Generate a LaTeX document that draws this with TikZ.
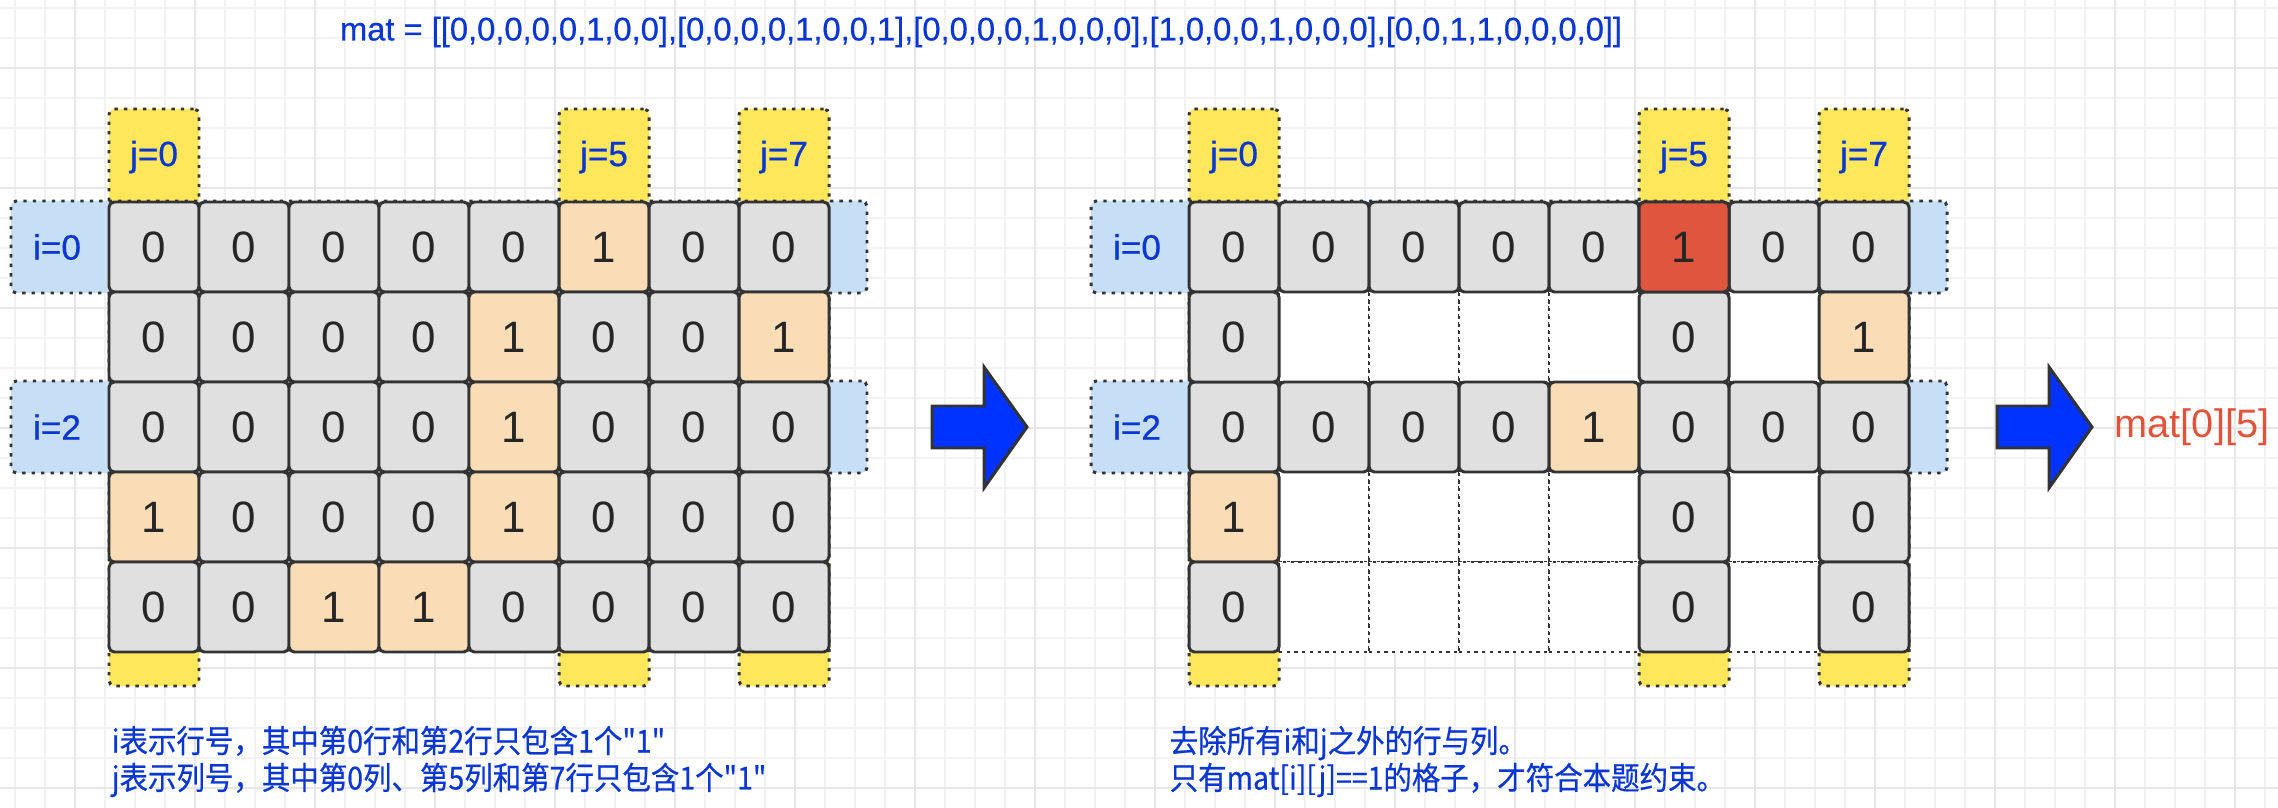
\documentclass[tikz,border=0pt]{standalone}
\usepackage{fontspec}
\setmainfont{Liberation Sans}
\newfontfamily\labelfont{Liberation Sans}[FakeBold=0.6]
\newfontfamily\cjk{Noto Sans CJK SC}[FakeStretch=0.9,FakeBold=0.6]
\usetikzlibrary{positioning}

\definecolor{cellgray}{HTML}{E0E0E0}
\definecolor{cellline}{HTML}{333333}
\definecolor{onefill}{HTML}{F9DDB6}
\definecolor{hitfill}{HTML}{E0553D}
\definecolor{tabyellow}{HTML}{FFE75C}
\definecolor{tabblue}{HTML}{C6DFF6}
\definecolor{labelblue}{HTML}{0A36D2}
\definecolor{arrowblue}{HTML}{0033FF}
\definecolor{resred}{HTML}{E2533B}
\definecolor{gridminor}{HTML}{F2F2F2}
\definecolor{gridmajor}{HTML}{E6E6E6}

\begin{document}
\begin{tikzpicture}[x=0.1mm,y=-0.1mm,
  cell/.style={rectangle,draw=cellline,line width=0.85pt,rounded corners=1.5pt,minimum size=9mm,inner sep=0,
    font=\fontsize{12.5}{14}\selectfont,text=black!85},
  cell0/.style={cell,fill=cellgray},
  cell1/.style={cell,fill=onefill},
  hit/.style={cell,fill=hitfill},
  blank/.style={rectangle,draw=cellline,line width=0.55pt,dash pattern=on 0.9pt off 1.3pt,fill=white,minimum size=9mm,inner sep=0},
  tab/.style={rectangle,draw=cellline,line width=0.85pt,dash pattern=on 0.95pt off 1.75pt,rounded corners=1.5pt,inner sep=0},
  coltab/.style={tab,fill=tabyellow,minimum width=9mm,minimum height=57.7mm},
  rowtab/.style={tab,fill=tabblue,minimum width=85.6mm,minimum height=9.2mm},
  tablabel/.style={text=labelblue,font=\labelfont\fontsize{10}{12}\selectfont,inner sep=0},
  note/.style={text=labelblue,align=left,anchor=west,font=\cjk\fontsize{9}{10.5}\selectfont,inner sep=0},
  bigarrow/.style={draw=cellline,line width=0.85pt,fill=arrowblue,line join=miter},
  minor/.style={line width=0.3pt,gridminor},
  major/.style={line width=0.5pt,gridmajor}]

\useasboundingbox (0,0) rectangle (2278,808);

%% background grid
\foreach \x in {15,45,...,2265} \draw[minor] (\x,0) -- (\x,808);
\foreach \y in {8,38,...,800} \draw[minor] (0,\y) -- (2278,\y);
\foreach \x in {75,195,...,2235} \draw[major] (\x,0) -- (\x,808);
\foreach \y in {68,188,...,788} \draw[major] (0,\y) -- (2278,\y);

%% matrix as text
\node[text=labelblue,font=\labelfont\fontsize{9.3}{11}\selectfont] (title) at (981,32)
  {mat = [[0,0,0,0,0,1,0,0],[0,0,0,0,1,0,0,1],[0,0,0,0,1,0,0,0],[1,0,0,0,1,0,0,0],[0,0,1,1,0,0,0,0]]};

%% column tabs (j) and row tabs (i), behind the cells
\foreach \j in {0,5,7} {
  \node[coltab] (Lcol\j) at ({154+90*\j},397.5) {};
  \node[coltab] (Rcol\j) at ({1234+90*\j},397.5) {};
  \node[tablabel] (Ljlab\j) at ({154+90*\j},157) {j=\j};
  \node[tablabel] (Rjlab\j) at ({1234+90*\j},157) {j=\j};
}
\foreach \i in {0,2} {
  \node[rowtab] (Lrow\i) at (439,{247+90*\i}) {};
  \node[rowtab] (Rrow\i) at (1519,{247+90*\i}) {};
  \node[tablabel] (Lilab\i) at (57,{247+90*\i}) {i=\i};
  \node[tablabel] (Rilab\i) at (1137,{247+90*\i}) {i=\i};
}

%% left grid: the whole matrix
\foreach \row [count=\r from 0] in {{0,0,0,0,0,1,0,0},{0,0,0,0,1,0,0,1},{0,0,0,0,1,0,0,0},{1,0,0,0,1,0,0,0},{0,0,1,1,0,0,0,0}}
  \foreach \v [count=\c from 0] in \row
    \node[cell\v] (L-\r-\c) at ({154+90*\c},{247+90*\r}) {\v};

%% right grid: only rows i and columns j are kept
\foreach \r in {1,3,4}
  \foreach \c in {1,2,3,4,6}
    \node[blank] (R-\r-\c) at ({1234+90*\c},{247+90*\r}) {};
\foreach \v [count=\c from 0] in {0,0,0,0,0,1,0,0}
  \node[cell\v] (R-0-\c) at ({1234+90*\c},247) {\v};
\foreach \v [count=\c from 0] in {0,0,0,0,1,0,0,0}
  \node[cell\v] (R-2-\c) at ({1234+90*\c},427) {\v};
\foreach \r/\c/\v in {1/0/0,1/5/0,1/7/1,3/0/1,3/5/0,3/7/0,4/0/0,4/5/0,4/7/0}
  \node[cell\v] (R-\r-\c) at ({1234+90*\c},{247+90*\r}) {\v};
%% the answer cell
\node[hit] at (R-0-5) {1};

%% block arrows
\coordinate (arrA) at (932,427);
\coordinate (arrB) at (1997,427);
\coordinate (tipB) at (2092,427);
\foreach \a in {arrA,arrB}
  \draw[bigarrow] (\a) ++(0,-21) -- ++(52,0) -- ++(0,-39) -- ++(43,60) -- ++(-43,61) -- ++(0,-40) -- ++(-52,0) -- cycle;
\node[text=resred,font=\fontsize{11.3}{13}\selectfont,anchor=west,inner sep=0,right=2.2mm of tipB] (res) {mat[0][5]};

%% notes
\node[note] (noteL) at (111,761.5) {i表示行号，其中第0行和第2行只包含1个"1"\\j表示列号，其中第0列、第5列和第7行只包含1个"1"};
\node[note] (noteR) at (1169,761.5) {去除所有i和j之外的行与列。\\只有mat[i][j]==1的格子，才符合本题约束。};
\end{tikzpicture}
\end{document}
